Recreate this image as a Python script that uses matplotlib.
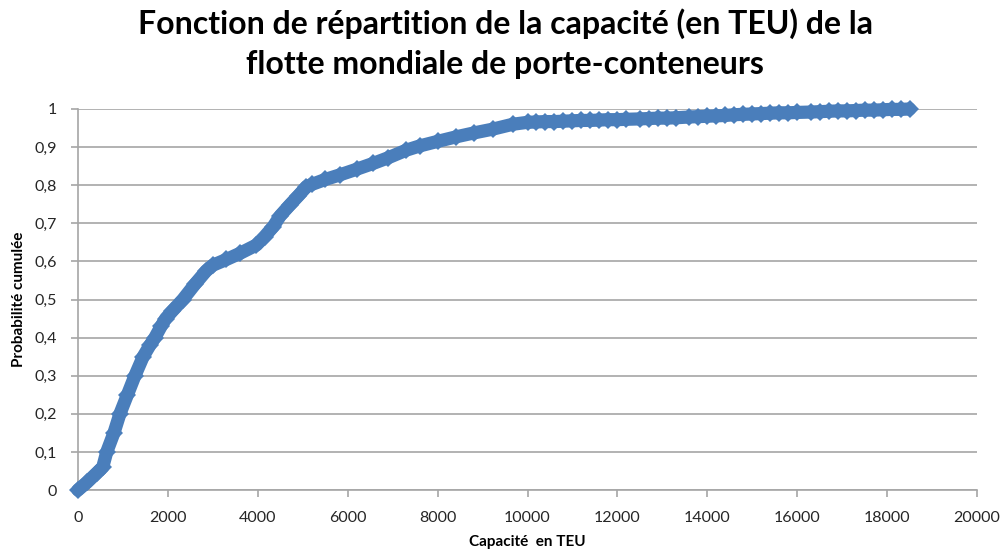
import matplotlib.pyplot as plt
from matplotlib.ticker import FuncFormatter

# capacité des navires (TEU) et probabilité cumulée
capacite_teu = [
    0, 200, 420, 550, 640, 800, 933, 1100, 1267, 1450, 1600, 1711, 1850, 1950,
    2100, 2333, 2600, 2850, 3000, 3300, 3600, 3970, 4150, 4341, 4500, 4711,
    4900, 5081, 5200, 5500, 5822, 6200, 6563, 6900, 7304, 7600, 8000, 8415,
    8800, 9222, 9674, 10000, 10200, 10400, 10600, 10800, 11000, 11200, 11400,
    11600, 11800, 12000, 12200, 12500, 12700, 12900, 13100, 13300, 13600,
    13800, 14000, 14200, 14400, 14600, 14800, 15000, 15200, 15400, 15600,
    15800, 16000, 16300, 16500, 16700, 16900, 17100, 17300, 17500, 17700,
    17900, 18100, 18300, 18500,
]
proba_cumulee = [
    0.0, 0.02, 0.045, 0.06, 0.10, 0.15, 0.20, 0.25, 0.30, 0.35, 0.38, 0.40,
    0.43, 0.45, 0.47, 0.50, 0.54, 0.575, 0.59, 0.605, 0.621, 0.643, 0.665,
    0.691, 0.72, 0.748, 0.772, 0.796, 0.802, 0.815, 0.827, 0.842, 0.857,
    0.872, 0.892, 0.903, 0.915, 0.927, 0.937, 0.947, 0.960, 0.965, 0.966,
    0.967, 0.967, 0.968, 0.969, 0.970, 0.970, 0.971, 0.972, 0.972, 0.973,
    0.974, 0.975, 0.976, 0.976, 0.977, 0.979, 0.980, 0.981, 0.982, 0.983,
    0.985, 0.986, 0.987, 0.988, 0.989, 0.990, 0.990, 0.991, 0.992, 0.993,
    0.994, 0.995, 0.995, 0.996, 0.997, 0.997, 0.998, 0.999, 0.999, 1.0,
]

x_ticks = list(range(0, 20001, 2000))
y_ticks = [i / 10 for i in range(11)]

bleu = "#4a7ebb"
gris = "#a6a6a6"
plt.rcParams["font.family"] = ["Lato", "DejaVu Sans"]

fig = plt.figure(figsize=(10.08, 5.53), dpi=100)
ax = fig.add_axes([78 / 1008, 1 - 490 / 553, 899 / 1008, 381 / 553])

ax.plot(capacite_teu, proba_cumulee, color=bleu, lw=9.5, marker="D",
        markersize=9.5, markeredgewidth=0, solid_joinstyle="round",
        solid_capstyle="round", zorder=3, clip_on=False)

ax.set_xlim(0, 20000)
ax.set_ylim(0, 1)
ax.set_xticks(x_ticks)
ax.set_yticks(y_ticks)
ax.yaxis.set_major_formatter(
    FuncFormatter(lambda v, p: ("%g" % round(v, 1)).replace(".", ",")))
ax.grid(axis="y", color=gris, lw=1.2)
ax.set_axisbelow(True)
for s in ["top", "right"]:
    ax.spines[s].set_visible(False)
for s in ["left", "bottom"]:
    ax.spines[s].set_color(gris)
    ax.spines[s].set_linewidth(1.2)
ax.tick_params(axis="both", colors=gris, width=1.2, length=5,
               labelcolor="#262626", labelsize=11.5)
ax.tick_params(axis="y", pad=10)
ax.tick_params(axis="x", pad=10)

ax.set_xlabel("Capacité  en TEU", fontsize=11, fontweight="bold", labelpad=7)
ax.set_ylabel("Probabilité cumulée", fontsize=11, fontweight="bold", labelpad=6)

fig.text(0.501, 1 - 8 / 553,
         "Fonction de répartition de la capacité (en TEU) de la\n"
         "flotte mondiale de porte-conteneurs",
         ha="center", va="top", fontsize=23, fontweight="bold",
         linespacing=1.45, color="black")

fig.savefig("out.png", dpi=100)
